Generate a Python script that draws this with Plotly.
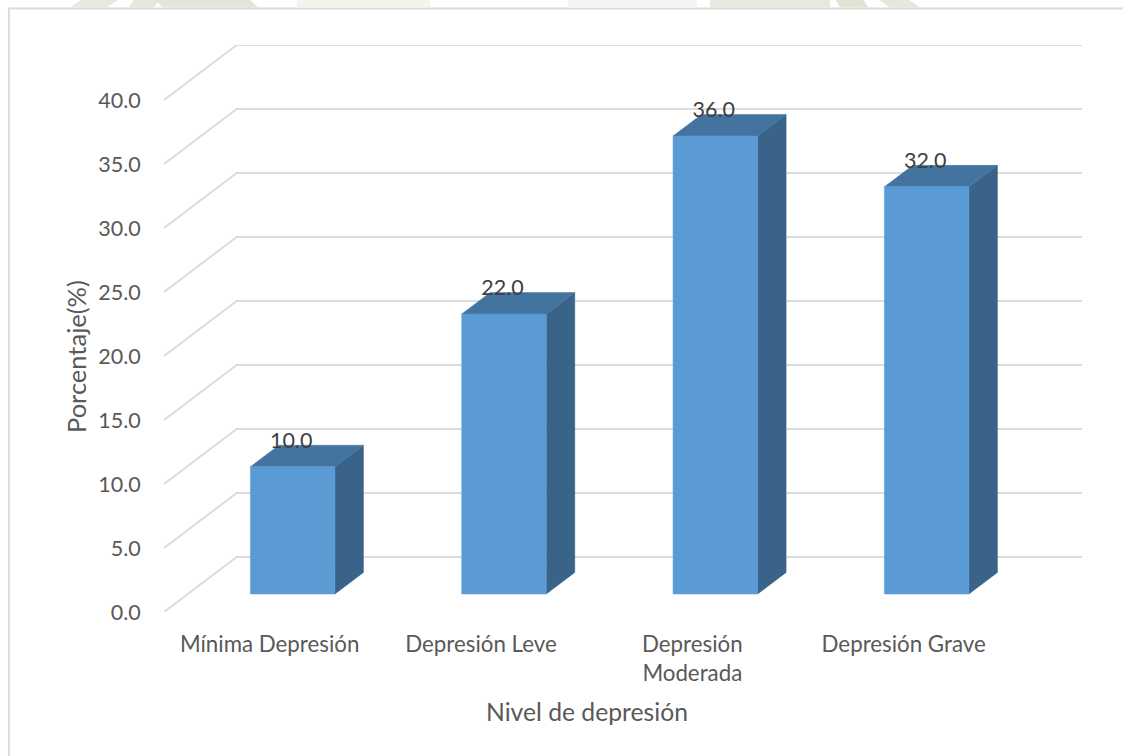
import plotly.graph_objects as go

# ---- data ----
categories = ["Mínima Depresión", "Depresión Leve", "Depresión<br>Moderada", "Depresión Grave"]
values = [10.0, 22.0, 36.0, 32.0]
grid_values = [0, 5, 10, 15, 20, 25, 30, 35, 40]
x_title = "Nivel de depresión"
y_title = "Porcentaje(%)"

# ---- style / pseudo-3D geometry (data units) ----
W, H = 1123, 756
L, R, T, B = 164, 1081.7, 45, 612      # plot area in px
xu = (R - L) / 4.344                   # px per category
yu = 12.8                              # px per value unit
x_min, x_max = -0.5, 3.844
y_max = (B - T) / yu
wall_dx, wall_dy = 72.7 / xu, 55 / yu  # depth of floor
bar_off_x, bar_off_y = 23.0 / xu, 18 / yu
bar_dx, bar_dy = 28.5 / xu, 21.5 / yu
bar_w = 84.5 / xu
bar_scale = 0.994
FONT = "Lato"
TXT = "#595959"
GRID = "#DCDCDC"
FRONT, TOP, SIDE = "#5B9BD5", "#4374A0", "#396388"
# faint photo background visible above the chart frame: (x from, x to, slant, colour)
backdrop = [(70, 107, 14, "#E8E9DE"), (129, 154, 6, "#E6E7DB"), (163, 258, -10, "#E4E5D9"),
            (297, 430, 0, "#F4F4EF"), (568, 697, 0, "#F5F5F1"), (710, 830, 0, "#E9E8E0"),
            (840, 868, -6, "#E1E4D4"), (890, 920, -14, "#E6E8DC")]

fig = go.Figure()

def px(x):
    return (x - L) / (R - L)

def py(y):
    return (B - y) / (B - T)

# wall gridlines
for g in grid_values:
    fig.add_trace(go.Scatter(
        x=[x_min, x_min + wall_dx, x_max], y=[g, g + wall_dy, g + wall_dy],
        mode="lines", line=dict(color=GRID, width=2), hoverinfo="skip",
        showlegend=False, cliponaxis=False))

# bars
for i, v in enumerate(values):
    x0 = i + bar_off_x - bar_w / 2
    x1 = x0 + bar_w
    y0 = bar_off_y
    y1 = y0 + v * bar_scale
    faces = [
        ([x1, x1 + bar_dx, x1 + bar_dx, x1, x1], [y0, y0 + bar_dy, y1 + bar_dy, y1, y0], SIDE),
        ([x0, x0 + bar_dx, x1 + bar_dx, x1, x0], [y1, y1 + bar_dy, y1 + bar_dy, y1, y1], TOP),
        ([x0, x1, x1, x0, x0], [y0, y0, y1, y1, y0], FRONT),
    ]
    for fx, fy, col in faces:
        fig.add_trace(go.Scatter(
            x=fx, y=fy, mode="lines", fill="toself", fillcolor=col,
            line=dict(color=col, width=0.5), hoverinfo="skip", showlegend=False))

# data labels
fig.add_trace(go.Scatter(
    x=[i + bar_off_x - 1.5 / xu for i in range(len(values))],
    y=[bar_off_y + v * bar_scale + 24 / yu for v in values],
    text=[f"{v:.1f}" for v in values], mode="text", textposition="middle center",
    textfont=dict(family=FONT, size=21.5, color="#404040"),
    hoverinfo="skip", showlegend=False, cliponaxis=False))

shapes = [dict(type="path", xref="paper", yref="paper", layer="below",
               path=f"M {px(9)},{py(H + 4)} L {px(9)},{py(8.5)} L {px(W + 4)},{py(8.5)}",
               line=dict(color=GRID, width=2))]
for a, b, s, col in backdrop:
    shapes.append(dict(type="path", xref="paper", yref="paper", layer="below",
                       path=f"M {px(a)},{py(7.5)} L {px(b)},{py(7.5)} L {px(b + s)},{py(-2)} L {px(a + s)},{py(-2)} Z",
                       fillcolor=col, line=dict(width=0)))

fig.update_layout(
    width=W, height=H, autosize=False,
    margin=dict(l=L, r=W - R, t=T, b=H - B, pad=0),
    paper_bgcolor="white", plot_bgcolor="rgba(0,0,0,0)",
    font=dict(family=FONT, color=TXT, size=21),
    showlegend=False,
    xaxis=dict(
        range=[x_min, x_max], tickmode="array", tickvals=list(range(len(categories))),
        ticktext=categories, showgrid=False, zeroline=False, showline=False,
        ticks="outside", ticklen=12, tickcolor="rgba(0,0,0,0)",
        tickfont=dict(family=FONT, size=22.3, color=TXT), tickangle=0),
    yaxis=dict(
        range=[0, y_max], tickmode="array", tickvals=grid_values,
        tickformat=".1f", showgrid=False, zeroline=False, showline=False,
        ticks="outside", ticklen=18, tickcolor="rgba(0,0,0,0)",
        tickfont=dict(family=FONT, size=21.5, color=TXT)),
    annotations=[
        dict(text=x_title, xref="paper", yref="paper", x=px(587), y=py(711),
             showarrow=False, xanchor="center", yanchor="middle",
             font=dict(family=FONT, size=24.7, color=TXT)),
        dict(text=y_title, xref="paper", yref="paper", x=px(76), y=py(356),
             showarrow=False, xanchor="center", yanchor="middle", textangle=-90,
             font=dict(family=FONT, size=25.5, color=TXT)),
    ],
    shapes=shapes,
)

fig.write_html("out.html", config={"displayModeBar": False},
               post_script="document.body.style.margin='0';")
